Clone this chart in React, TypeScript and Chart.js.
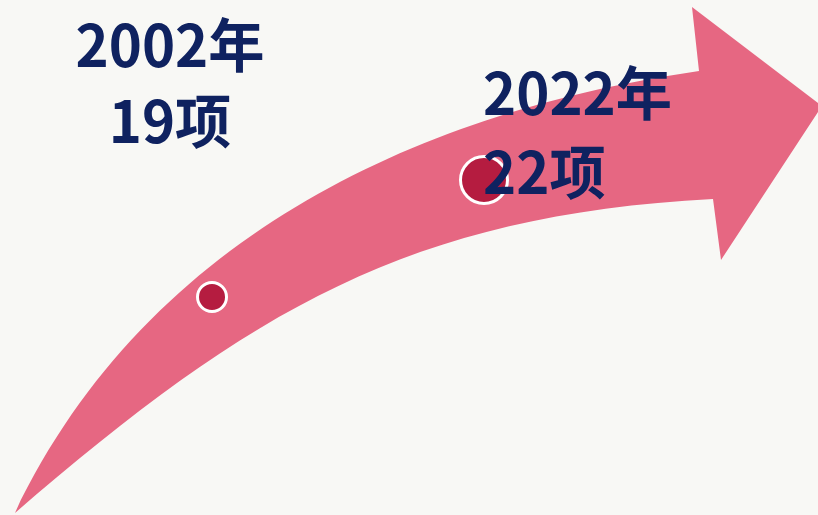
import React, { useEffect, useRef } from "react";
import { Chart, registerables } from "chart.js";

Chart.register(...registerables);

const years = [2002, 2022];
const counts = [19, 22];
const yearLabels = ["2002年", "2022年"];
const countLabels = ["19项", "22项"];

const BG = "#f8f8f5";
const ARROW = "#e66782";
const DOT = "#b51c40";
const TEXT = "#0f2260";

const arrowPlugin = {
  id: "arrowShape",
  beforeDatasetsDraw(chart: any) {
    const { ctx, chartArea } = chart;
    const sx = (chartArea.right - chartArea.left) / 818;
    const sy = (chartArea.bottom - chartArea.top) / 515;
    const X = (v: number) => chartArea.left + v * sx;
    const Y = (v: number) => chartArea.top + v * sy;
    ctx.save();
    ctx.fillStyle = ARROW;
    ctx.beginPath();
    ctx.moveTo(X(15), Y(513));
    ctx.bezierCurveTo(X(150), Y(230), X(430), Y(110), X(699), Y(71));
    ctx.lineTo(X(692), Y(7));
    ctx.lineTo(X(822), Y(106));
    ctx.lineTo(X(721), Y(260));
    ctx.lineTo(X(713), Y(199));
    ctx.bezierCurveTo(X(410), Y(215), X(250), Y(310), X(15), Y(513));
    ctx.closePath();
    ctx.fill();
    ctx.restore();
  },
};

const bgPlugin = {
  id: "bgFill",
  beforeDraw(chart: any) {
    const { ctx, width, height } = chart;
    ctx.save();
    ctx.fillStyle = BG;
    ctx.fillRect(0, 0, width, height);
    ctx.restore();
  },
};

function drawText(ctx: any, text: string, x: number, y: number, align: "left" | "center") {
  const sxScale = 0.97;
  const w = ctx.measureText(text).width * sxScale;
  const left = align === "center" ? x - w / 2 : x;
  ctx.save();
  ctx.translate(left, y);
  ctx.scale(sxScale, 1);
  ctx.textAlign = "left";
  ctx.fillText(text, 0, 0);
  ctx.restore();
}

const labelPlugin = {
  id: "labels",
  afterDatasetsDraw(chart: any) {
    const { ctx } = chart;
    const meta = chart.getDatasetMeta(0);
    ctx.save();
    ctx.fillStyle = TEXT;
    ctx.font = 'bold 58px "Noto Sans CJK SC", sans-serif';
    ctx.textBaseline = "alphabetic";
    meta.data.forEach((pt: any, i: number) => {
      const { x, y } = pt.getProps(["x", "y"], true);
      if (i === 0) {
        drawText(ctx, yearLabels[i], x - 42, y - 230, "center");
        drawText(ctx, countLabels[i], x - 42, y - 154, "center");
      } else {
        drawText(ctx, yearLabels[i], x - 1, y - 65, "left");
        drawText(ctx, countLabels[i], x - 1, y + 14, "left");
      }
    });
    ctx.restore();
  },
};

export default function App() {
  const ref = useRef<HTMLCanvasElement | null>(null);
  useEffect(() => {
    document.body.style.margin = "0";
    if (!ref.current) return;
    const chart = new Chart(ref.current, {
      type: "scatter",
      data: {
        datasets: [
          {
            data: years.map((y, i) => ({ x: y, y: counts[i] })),
            backgroundColor: DOT,
            borderColor: "#ffffff",
            borderWidth: 3,
            pointRadius: [14.5, 23.5],
            pointHoverRadius: [14.5, 23.5],
          },
        ],
      },
      options: {
        animation: false,
        responsive: true,
        maintainAspectRatio: false,
        layout: { padding: 0, autoPadding: false },
        plugins: { legend: { display: false }, tooltip: { enabled: false } },
        events: [],
        scales: {
          x: { type: "linear", min: 1986.41, max: 2046.56, display: false },
          y: { type: "linear", min: 13.41, max: 26.615, display: false },
        },
      },
      plugins: [bgPlugin, arrowPlugin, labelPlugin],
    });
    return () => chart.destroy();
  }, []);
  return (
    <div style={{ width: 818, height: 515, position: "relative" }}>
      <canvas ref={ref} />
    </div>
  );
}
